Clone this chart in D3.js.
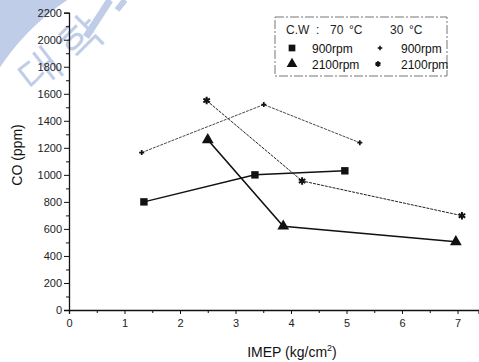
<!DOCTYPE html>
<html>
<head>
<meta charset="utf-8">
<script src="https://cdn.jsdelivr.net/npm/d3@7"></script>
<style>
  html, body { margin: 0; padding: 0; background: #fff; }
  svg { display: block; }
  text { font-family: "Liberation Sans", Arial, sans-serif; }
</style>
</head>
<body>
<svg id="chart" width="479" height="362"></svg>
<script>
// IMEP (kg/cm²) vs CO (ppm) at two coolant-water temperatures
const imep70_900 = [1.35, 3.35, 4.97];
const co70_900 = [800, 1000, 1030];
const imep70_2100 = [2.50, 3.86, 6.97];
const co70_2100 = [1260, 620, 505];
const imep30_900 = [1.31, 3.51, 5.24];
const co30_900 = [1165, 1520, 1238];
const imep30_2100 = [2.48, 4.20, 7.08];
const co30_2100 = [1550, 955, 698];

const xTicks = [0, 1, 2, 3, 4, 5, 6, 7];
const yTicks = [0, 200, 400, 600, 800, 1000, 1200, 1400, 1600, 1800, 2000, 2200];

const svg = d3.select("#chart");

// --- faint seal in the background ---
const sealColor = "#bfcde9";
svg.append("path")
  .attr("d", d3.arc()({innerRadius: 240, outerRadius: 300, startAngle: -1.3, endAngle: -0.3}))
  .attr("transform", "translate(200,200)")
  .attr("fill", sealColor);
svg.append("text").attr("x", 32).attr("y", 92).attr("font-size", 42)
  .attr("font-family", "Noto Sans CJK KR").attr("fill", sealColor)
  .attr("transform", "rotate(-38,32,92)").text("대");
svg.append("text").attr("x", 74).attr("y", 64).attr("font-size", 44)
  .attr("font-family", "Noto Sans CJK KR").attr("fill", sealColor)
  .attr("transform", "rotate(-45,74,64)").text("학");
// strokes of the next seal character, cut by the top edge
svg.append("path").attr("d", "M86,37 L110,0").attr("stroke", sealColor).attr("stroke-width", 7).attr("fill", "none");
svg.append("path").attr("d", "M117,10 L125,0").attr("stroke", sealColor).attr("stroke-width", 6).attr("fill", "none");

// --- scales ---
const x = d3.scaleLinear().domain([0, 7.38]).range([69, 478.6]);
const y = d3.scaleLinear().domain([0, 2200]).range([310, 12.7]);

// --- axes ---
svg.append("g").attr("transform", `translate(0,${y(0)})`)
  .call(d3.axisBottom(x).tickValues(xTicks).tickFormat(d3.format("d")).tickSize(4).tickPadding(5));
svg.append("g").attr("transform", `translate(0,${y(0)})`)
  .call(d3.axisBottom(x).tickValues(d3.range(0.5, 7.5, 1)).tickFormat("").tickSize(3))
  .select(".domain").remove();
svg.append("g").attr("transform", `translate(${x(0)},0)`)
  .call(d3.axisLeft(y).tickValues(yTicks).tickFormat(d3.format("d")).tickSize(5).tickPadding(2));
svg.append("g").attr("transform", `translate(${x(0)},0)`)
  .call(d3.axisLeft(y).tickValues(d3.range(100, 2200, 200)).tickFormat("").tickSize(3))
  .select(".domain").remove();

svg.selectAll(".domain").attr("stroke", "#111").attr("stroke-width", 1.3);
svg.selectAll(".tick line").attr("stroke", "#111").attr("stroke-width", 1);
svg.selectAll(".tick text").attr("font-size", 11).attr("fill", "#222")
  .attr("font-family", "'Liberation Sans', Arial, sans-serif");

// axis titles
svg.append("text").attr("x", 292).attr("y", 357).attr("text-anchor", "middle")
  .attr("font-size", 14).attr("fill", "#111")
  .html('IMEP (kg/cm<tspan dy="-6" font-size="9">2</tspan><tspan dy="6">)</tspan>');
svg.append("text").attr("transform", "translate(22,155) rotate(-90)")
  .attr("text-anchor", "middle").attr("font-size", 14).attr("fill", "#111")
  .text("CO (ppm)");

// --- series ---
const asterisk = d3.symbolAsterisk || d3.symbolX;
const line = d3.line().x(d => x(d[0])).y(d => y(d[1]));
const series = [
  {xs: imep70_900, ys: co70_900, sym: d3.symbolSquare, size: 55, width: 1.5, dash: null, color: "#111", stroked: false},
  {xs: imep70_2100, ys: co70_2100, sym: d3.symbolTriangle, size: 60, width: 1.6, dash: null, color: "#111", stroked: false},
  {xs: imep30_900, ys: co30_900, sym: d3.symbolCross, size: 14, width: 0.9, dash: "3,1", color: "#333", stroked: false},
  {xs: imep30_2100, ys: co30_2100, sym: asterisk, size: 40, width: 1.0, dash: "3,1", color: "#222", stroked: true}
];

series.forEach(s => {
  const pts = s.xs.map((v, i) => [v, s.ys[i]]);
  svg.append("path").datum(pts).attr("d", line)
    .attr("fill", "none").attr("stroke", s.color).attr("stroke-width", s.width)
    .attr("stroke-dasharray", s.dash);
  svg.append("g").selectAll("path").data(pts).join("path")
    .attr("transform", d => `translate(${x(d[0])},${y(d[1])})`)
    .attr("d", d3.symbol(s.sym, s.size))
    .attr("fill", s.stroked ? "none" : "#111")
    .attr("stroke", s.stroked ? "#111" : "none")
    .attr("stroke-width", 2);
});

// --- legend ---
const lg = svg.append("g");
lg.append("rect").attr("x", 275).attr("y", 17).attr("width", 172).attr("height", 59)
  .attr("fill", "#fff").attr("stroke", "#777").attr("stroke-width", 1)
  .attr("stroke-dasharray", "9,2,2,2");
const head = [["C.W", 286], [":", 316], ["70", 330], ["°C", 349], ["30", 390], ["°C", 409]];
head.forEach(([t, hx]) => {
  lg.append("text").attr("x", hx).attr("y", 34).attr("font-size", 12)
    .attr("font-family", "'Liberation Serif', serif").attr("fill", "#222").text(t);
});
const legendRows = [
  {sym: d3.symbolSquare, size: 45, mx: 292, my: 48, tx: 312, ty: 53, label: "900rpm", stroked: false},
  {sym: d3.symbolTriangle, size: 50, mx: 292, my: 64, tx: 312, ty: 69, label: "2100rpm", stroked: false},
  {sym: d3.symbolCross, size: 12, mx: 380, my: 48, tx: 401, ty: 53, label: "900rpm", stroked: false},
  {sym: asterisk, size: 22, mx: 378, my: 64, tx: 401, ty: 69, label: "2100rpm", stroked: true}
];
legendRows.forEach(r => {
  lg.append("path").attr("transform", `translate(${r.mx},${r.my})`)
    .attr("d", d3.symbol(r.sym, r.size))
    .attr("fill", r.stroked ? "none" : "#111")
    .attr("stroke", r.stroked ? "#111" : "none").attr("stroke-width", 2);
  lg.append("text").attr("x", r.tx).attr("y", r.ty).attr("font-size", 12)
    .attr("fill", "#111").text(r.label);
});
</script>
</body>
</html>
